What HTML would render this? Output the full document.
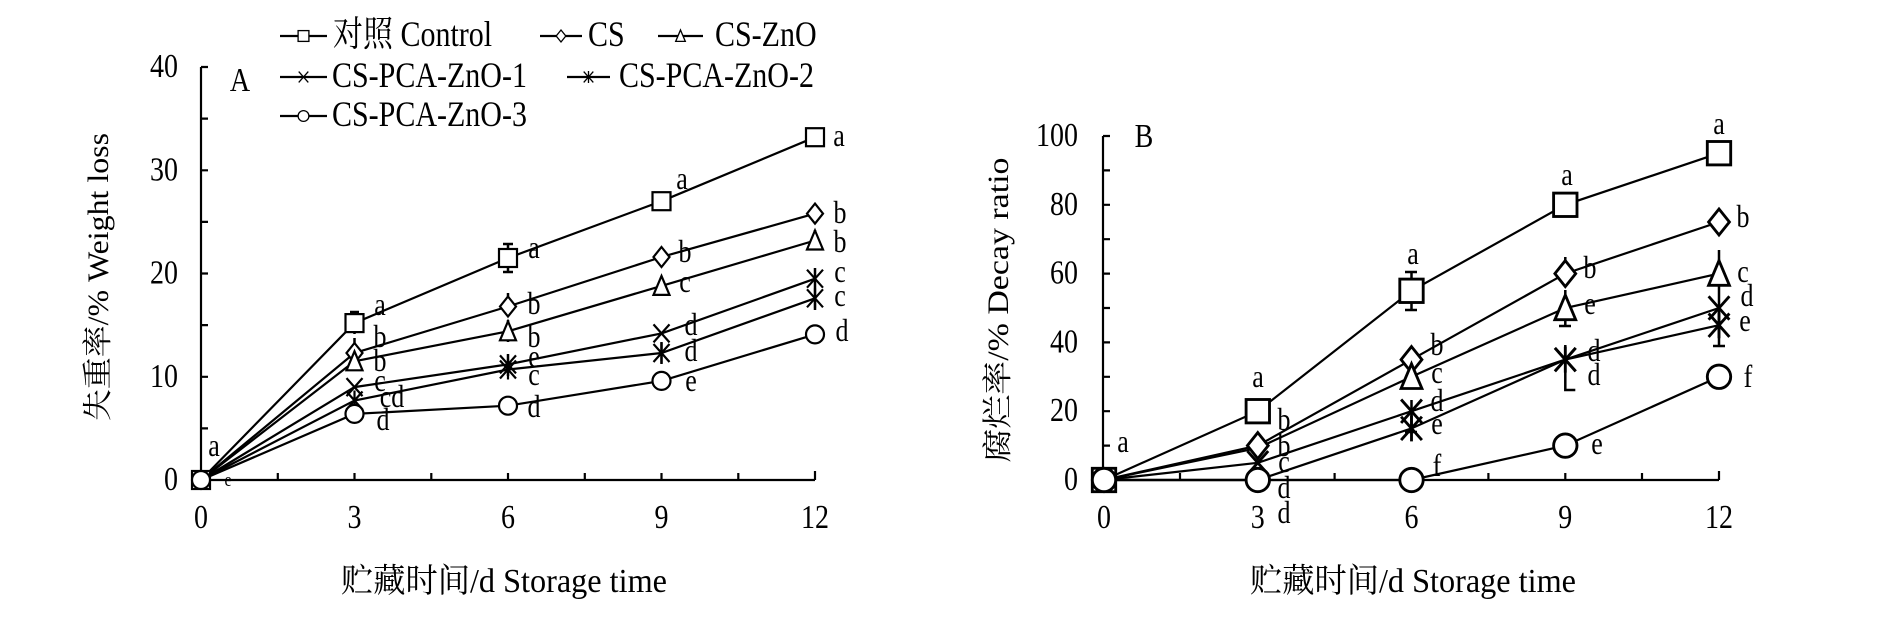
<!DOCTYPE html>
<html><head><meta charset="utf-8"><style>html,body{margin:0;padding:0;background:#fff}svg{display:block}</style></head>
<body>
<svg width="1890" height="620" viewBox="0 0 1890 620" xmlns="http://www.w3.org/2000/svg" font-family="'Liberation Serif','Noto Serif CJK SC',serif">
<defs>
<rect id="sq" x="-9" y="-9" width="18" height="18" fill="#fff" stroke="#000" stroke-width="2.2"/>
<path id="di" d="M0,-10L8,0L0,10L-8,0Z" fill="#fff" stroke="#000" stroke-width="2.2"/>
<path id="tr" d="M0,-10L8,9L-8,9Z" fill="#fff" stroke="#000" stroke-width="2.2"/>
<path id="xx" d="M-8,-9L8,9M8,-9L-8,9" fill="none" stroke="#000" stroke-width="2.2"/>
<path id="st" d="M-8,-9L8,9M8,-9L-8,9M0,-10V10" fill="none" stroke="#000" stroke-width="2.2"/>
<circle id="ci" r="9" fill="#fff" stroke="#000" stroke-width="2.2"/>
</defs>
<g stroke="#000" stroke-width="2.2" fill="none">
<path d="M201,67V480H815"/>
<path d="M201,67h7M201,118.6h7M201,170.3h7M201,221.9h7M201,273.5h7M201,325.1h7M201,376.8h7M201,428.4h7"/>
<path d="M277.8,480v-7M354.5,480v-7M431.3,480v-7M508,480v-7M584.8,480v-7M661.5,480v-7M738.3,480v-7M815,480v-9"/>
<path d="M1103,136V480H1719"/>
<path d="M1103,136h7M1103,170.4h7M1103,204.8h7M1103,239.2h7M1103,273.6h7M1103,308h7M1103,342.4h7M1103,376.8h7M1103,411.2h7M1103,445.6h7"/>
<path d="M1180,480v-7M1257.8,480v-7M1334.6,480v-7M1411.5,480v-7M1488.4,480v-7M1565.3,480v-7M1642,480v-7M1719,480v-9"/>
<polyline points="201,480 354.5,323.1 508,258 661.5,201.2 815,137.2"/>
<polyline points="201,480 354.5,353 508,306.5 661.5,257 815,213.6"/>
<polyline points="201,480 354.5,361.3 508,331.3 661.5,285.9 815,240.5"/>
<polyline points="201,480 354.5,387.1 508,364.4 661.5,333.4 815,278.7"/>
<polyline points="201,480 354.5,400.5 508,369.5 661.5,353 815,298.3"/>
<polyline points="201,480 354.5,413.9 508,405.7 661.5,380.9 815,334.4"/>
<path stroke-width="2.5" d="M354.5,312v22M350,312h9M508,244v28M503,244h10M503,272h10M661.5,194v14M815,129v16M810,129h10M810,145h10M508,293v22M815,204v18M354.5,338v28M508,320v22M815,230v20M815,268v20M508,354v22M661.5,342v22M815,286v24M815,326v18M661.5,373v16"/>
<polyline points="1104,480 1257.8,411.2 1411.5,290.8 1565.3,204.8 1719,153.2"/>
<polyline points="1104,480 1257.8,445.6 1411.5,359.6 1565.3,273.6 1719,222"/>
<polyline points="1104,480 1257.8,448 1411.5,376.8 1565.3,308 1719,273.6"/>
<polyline points="1104,480 1257.8,462.8 1411.5,411.2 1565.3,359.6 1719,308"/>
<polyline points="1104,480 1257.8,480 1411.5,428.4 1565.3,359.6 1719,325.2"/>
<polyline points="1104,480 1257.8,480 1411.5,480 1565.3,445.6 1719,376.8"/>
<path stroke-width="2.5" d="M1257.8,402v20M1252,402h11M1411.5,272v38M1405,272h12M1405,310h12M1719,146v16M1713,146h12M1713,162h12M1565.3,257v30M1565.3,290v36M1559,326h12M1719,250v50M1719,296v50M1713,346h12M1411.5,400v32M1405,432h12M1565.3,345v45h10M1719,366v22M1104,470v20"/>
</g>
<g>
<use href="#sq" x="201" y="480"/><use href="#sq" x="354.5" y="323.1"/><use href="#sq" x="508" y="258"/><use href="#sq" x="661.5" y="201.2"/><use href="#sq" x="815" y="137.2"/>
<use href="#di" x="354.5" y="353"/><use href="#di" x="508" y="306.5"/><use href="#di" x="661.5" y="257"/><use href="#di" x="815" y="213.6"/>
<use href="#tr" x="354.5" y="361.3"/><use href="#tr" x="508" y="331.3"/><use href="#tr" x="661.5" y="285.9"/><use href="#tr" x="815" y="240.5"/>
<use href="#xx" x="354.5" y="387.1"/><use href="#xx" x="508" y="364.4"/><use href="#xx" x="661.5" y="333.4"/><use href="#xx" x="815" y="278.7"/>
<use href="#st" x="354.5" y="400.5"/><use href="#st" x="508" y="369.5"/><use href="#st" x="661.5" y="353"/><use href="#st" x="815" y="298.3"/>
<use href="#ci" x="201" y="480"/><use href="#ci" x="354.5" y="413.9"/><use href="#ci" x="508" y="405.7"/><use href="#ci" x="661.5" y="380.9"/><use href="#ci" x="815" y="334.4"/>
</g>
<g transform="translate(1104,480) scale(1.3)"><use href="#sq"/><use href="#ci"/></g>
<g transform="translate(1257.8,411.2) scale(1.3)"><use href="#sq"/></g>
<g transform="translate(1411.5,290.8) scale(1.3)"><use href="#sq"/></g>
<g transform="translate(1565.3,204.8) scale(1.3)"><use href="#sq"/></g>
<g transform="translate(1719,153.2) scale(1.3)"><use href="#sq"/></g>
<g transform="translate(1257.8,445.6) scale(1.3)"><use href="#di"/></g>
<g transform="translate(1411.5,359.6) scale(1.3)"><use href="#di"/></g>
<g transform="translate(1565.3,273.6) scale(1.3)"><use href="#di"/></g>
<g transform="translate(1719,222) scale(1.3)"><use href="#di"/></g>
<g transform="translate(1411.5,376.8) scale(1.3)"><use href="#tr"/></g>
<g transform="translate(1565.3,308) scale(1.3)"><use href="#tr"/></g>
<g transform="translate(1719,273.6) scale(1.3)"><use href="#tr"/></g>
<g transform="translate(1257.8,462.8) scale(1.3)"><use href="#xx"/></g>
<g transform="translate(1411.5,411.2) scale(1.3)"><use href="#xx"/></g>
<g transform="translate(1565.3,359.6) scale(1.3)"><use href="#xx"/></g>
<g transform="translate(1719,308) scale(1.3)"><use href="#xx"/></g>
<g transform="translate(1411.5,428.4) scale(1.3)"><use href="#st"/></g>
<g transform="translate(1565.3,359.6) scale(1.3)"><use href="#st"/></g>
<g transform="translate(1719,325.2) scale(1.3)"><use href="#st"/></g>
<g transform="translate(1257.8,480) scale(1.3)"><use href="#ci"/></g>
<g transform="translate(1411.5,480) scale(1.3)"><use href="#ci"/></g>
<g transform="translate(1565.3,445.6) scale(1.3)"><use href="#ci"/></g>
<g transform="translate(1719,376.8) scale(1.3)"><use href="#ci"/></g>
<g stroke="#000" stroke-width="2.2">
<line x1="280" y1="36" x2="327" y2="36"/><line x1="540" y1="36" x2="582" y2="36"/><line x1="658" y1="36" x2="703" y2="36"/>
<line x1="280" y1="77" x2="327" y2="77"/><line x1="567" y1="77" x2="610" y2="77"/><line x1="280" y1="116" x2="327" y2="116"/>
</g>
<g transform="translate(303.5,36) scale(0.6)"><use href="#sq"/></g>
<g transform="translate(561,36) scale(0.6)"><use href="#di"/></g>
<g transform="translate(680.5,36) scale(0.6)"><use href="#tr"/></g>
<g transform="translate(303.5,77) scale(0.6)"><use href="#xx"/></g>
<g transform="translate(588.5,77) scale(0.6)"><use href="#st"/></g>
<g transform="translate(303.5,116) scale(0.6)"><use href="#ci"/></g>
<g transform="scale(1,1.2)" fill="#000">
<g font-size="30">
<text x="333" y="38.3">对照 Control</text><text x="588" y="38.3">CS</text><text x="715" y="38.3">CS-ZnO</text>
<text x="332" y="72.5">CS-PCA-ZnO-1</text><text x="619" y="72.5">CS-PCA-ZnO-2</text>
<text x="332" y="105">CS-PCA-ZnO-3</text>
</g>
<g font-size="28" text-anchor="end">
<text x="178" y="64.2">40</text><text x="178" y="150.3">30</text><text x="178" y="236.3">20</text><text x="178" y="322.3">10</text><text x="178" y="408.3">0</text>
<text x="1078" y="121.7">100</text><text x="1078" y="179">80</text><text x="1078" y="236.3">60</text><text x="1078" y="293.7">40</text><text x="1078" y="351">20</text><text x="1078" y="408.3">0</text>
</g>
<g font-size="28" text-anchor="middle">
<text x="201" y="440">0</text><text x="354.5" y="440">3</text><text x="508" y="440">6</text><text x="661.5" y="440">9</text><text x="815" y="440">12</text>
<text x="1104" y="440">0</text><text x="1257.8" y="440">3</text><text x="1411.5" y="440">6</text><text x="1565.3" y="440">9</text><text x="1719" y="440">12</text>
<text x="240" y="75.8">A</text><text x="1144" y="122.5">B</text>
</g>
<g font-size="28">
<text x="341" y="493.3" textLength="326" lengthAdjust="spacingAndGlyphs">贮藏时间/d  Storage time</text>
<text x="1250" y="493.3" textLength="326" lengthAdjust="spacingAndGlyphs">贮藏时间/d  Storage time</text>
</g>
<g font-size="26" text-anchor="middle">
<text x="214" y="380">a</text><text x="228" y="405" font-size="16">e</text>
<text x="380" y="262.5">a</text><text x="380" y="289">b</text><text x="380" y="309">b</text><text x="380" y="325.8">c</text><text x="392" y="339">cd</text><text x="383" y="358.3">d</text>
<text x="534" y="215">a</text><text x="534" y="261.7">b</text><text x="534" y="289">b</text><text x="534" y="305.8">e</text><text x="534" y="320.8">c</text><text x="534" y="347.5">d</text>
<text x="682" y="157.5">a</text><text x="685" y="218.3">b</text><text x="685" y="243.3">c</text><text x="691" y="279.2">d</text><text x="691" y="300.8">d</text><text x="691" y="325.8">e</text>
<text x="839" y="121.7">a</text><text x="840" y="185.8">b</text><text x="840" y="210">b</text><text x="840" y="235">c</text><text x="840" y="255">c</text><text x="842" y="284.2">d</text>
<text x="1123" y="376.7">a</text><text x="1258" y="322.5">a</text><text x="1284" y="358.3">b</text><text x="1284" y="380">b</text><text x="1284" y="393.3">c</text><text x="1284" y="415">d</text><text x="1284" y="435.8">d</text>
<text x="1413" y="220">a</text><text x="1437" y="295.8">b</text><text x="1437" y="319.2">c</text><text x="1437" y="342.5">d</text><text x="1437" y="361.7">e</text><text x="1437" y="396.7">f</text>
<text x="1567" y="154.2">a</text><text x="1590" y="231.7">b</text><text x="1590" y="261.7">e</text><text x="1594" y="300.8">d</text><text x="1594" y="320.8">d</text><text x="1597" y="378.3">e</text>
<text x="1719" y="111.7">a</text><text x="1743" y="189.2">b</text><text x="1743" y="235">c</text><text x="1747" y="255">d</text><text x="1745" y="275.8">e</text><text x="1748" y="322.5">f</text>
</g>
</g>
<text transform="translate(108,277) rotate(-90)" font-size="30" text-anchor="middle" textLength="288" lengthAdjust="spacingAndGlyphs">失重率/%  Weight loss</text>
<text transform="translate(1008,310) rotate(-90)" font-size="30" text-anchor="middle" textLength="305" lengthAdjust="spacingAndGlyphs">腐烂率/%  Decay ratio</text>
</svg>
</body></html>
